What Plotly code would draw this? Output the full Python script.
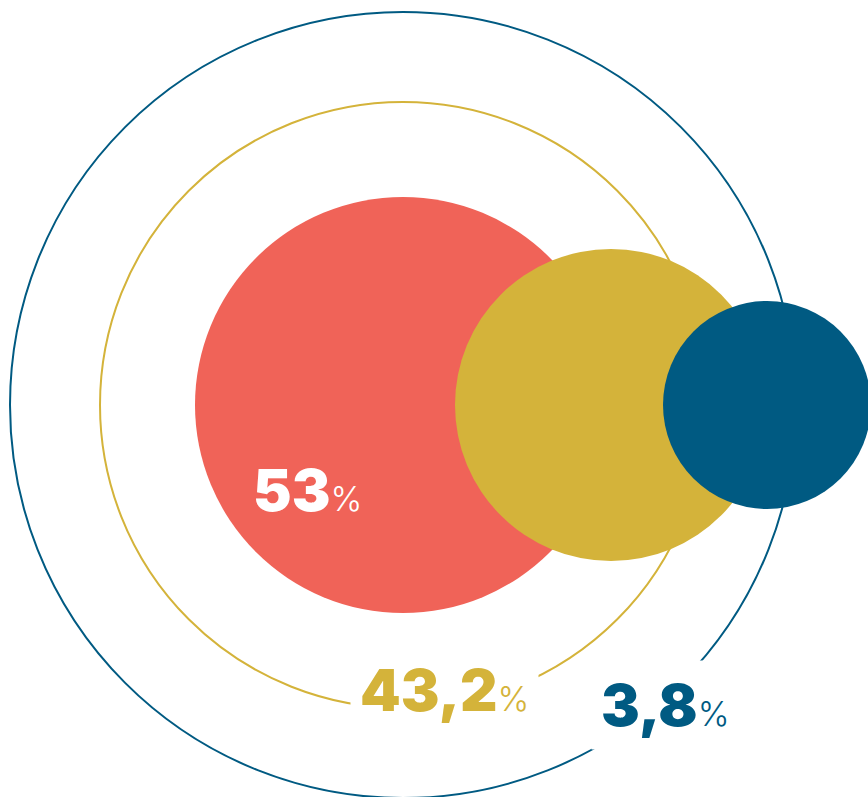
import plotly.graph_objects as go

# Data
categories = ["A", "B", "C"]
values = [53.0, 43.2, 3.8]
labels = ["53", "43,2", "3,8"]

# Styles / layout (pixel space)
colors = ["#F06358", "#D4B33A", "#005A82"]
text_colors = ["#FFFFFF", "#D4B33A", "#005A82"]
centers_x = [403, 611, 767]
center_y = 405
radii = [208, 156, 104]
ring_radii = [393, 303]
ring_colors = ["#005A82", "#D4B33A"]
label_pos = [(307, 490), (444, 690), (665, 705)]

W, H = 868, 797
fig = go.Figure()
fig.add_trace(go.Scatter(x=[0], y=[0], mode="markers", marker=dict(opacity=0), hoverinfo="skip", showlegend=False))

shapes = []
for r, c in zip(ring_radii, ring_colors):
    shapes.append(dict(type="circle", xref="x", yref="y", x0=403 - r, x1=403 + r,
                       y0=center_y - r, y1=center_y + r, line=dict(color=c, width=2), fillcolor="rgba(0,0,0,0)", layer="below"))
for cx, r, c in zip(centers_x, radii, colors):
    shapes.append(dict(type="circle", xref="x", yref="y", x0=cx - r, x1=cx + r,
                       y0=center_y - r, y1=center_y + r, line=dict(width=0), fillcolor=c, layer="below"))

annotations = []
for i, (lab, v) in enumerate(zip(labels, values)):
    x, y = label_pos[i]
    annotations.append(dict(
        x=x, y=y, xref="x", yref="y", showarrow=False,
        text=f"{lab}<span style='font-size:34px;font-weight:300'>%</span>",
        font=dict(family="Inter", size=58, color=text_colors[i], weight=900),
        bgcolor="rgba(0,0,0,0)" if i == 0 else "#FFFFFF",
        borderpad=9,
        xanchor="center", yanchor="middle",
    ))

fig.update_layout(
    width=W, height=H, margin=dict(l=0, r=0, t=0, b=0),
    paper_bgcolor="white", plot_bgcolor="white",
    xaxis=dict(range=[0, W], visible=False, fixedrange=True),
    yaxis=dict(range=[H, 0], visible=False, fixedrange=True),
    shapes=shapes, annotations=annotations, showlegend=False,
)
fig.write_html("out.html", config={"displayModeBar": False},
               post_script="document.body.style.margin='0';document.body.style.overflow='hidden';")
